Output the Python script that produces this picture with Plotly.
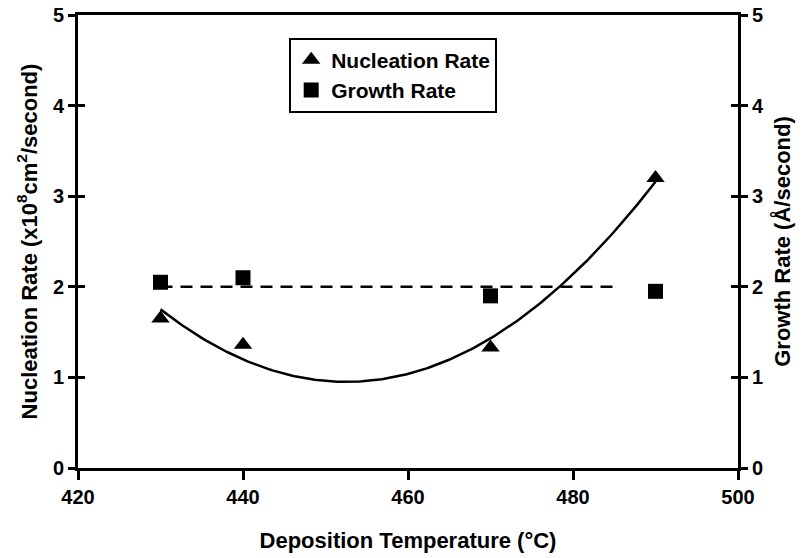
import numpy as np
import plotly.graph_objects as go

# ---- data ----
temps = [430, 440, 470, 490]
nucleation = [1.65, 1.36, 1.33, 3.20]
growth = [2.05, 2.10, 1.90, 1.95]
growth_line_x = [430, 485.5]
growth_line_y = [2.0, 2.0]
x_ticks = [420, 440, 460, 480, 500]
y_ticks = [0, 1, 2, 3, 4, 5]

# 2nd-order polynomial trendline of nucleation rate
coef = np.polyfit(temps, nucleation, 2)
xfit = np.linspace(min(temps), max(temps), 200)
yfit = np.polyval(coef, xfit)

FONT = "Liberation Sans, Arial, sans-serif"
tickfont = dict(family=FONT, size=20, color="black", weight="bold")
titlefont = dict(family=FONT, size=22, color="black", weight="bold")

fig = go.Figure()
fig.add_trace(go.Scatter(x=xfit, y=yfit, mode="lines",
                         line=dict(color="black", width=2.5),
                         showlegend=False, hoverinfo="skip"))
fig.add_trace(go.Scatter(x=growth_line_x, y=growth_line_y, mode="lines", yaxis="y2",
                         line=dict(color="black", width=2.5, dash="12px,8px"),
                         showlegend=False, hoverinfo="skip"))
fig.add_trace(go.Scatter(x=temps, y=nucleation, mode="markers", name="Nucleation Rate",
                         marker=dict(symbol="triangle-up", size=16, color="black")))
fig.add_trace(go.Scatter(x=temps, y=growth, mode="markers", name="Growth Rate", yaxis="y2",
                         marker=dict(symbol="square", size=15, color="black")))

common_y = dict(range=[0, 5], tickvals=y_ticks, showgrid=False, zeroline=False,
                fixedrange=True, automargin=False)

fig.update_layout(
    width=804, height=558,
    margin=dict(l=78, r=66, t=15, b=90, autoexpand=False),
    paper_bgcolor="white", plot_bgcolor="white",
    font=dict(family=FONT, color="black"),
    xaxis=dict(range=[420, 500], tickvals=x_ticks, showgrid=False, zeroline=False,
               automargin=False,
               showline=True, linecolor="black", linewidth=3, mirror=True,
               ticks="outside", ticklen=9, tickwidth=2.5, tickcolor="black",
               tickfont=tickfont,
               title=dict(text="Deposition Temperature (°C)", font=titlefont, standoff=26)),
    yaxis=dict(**common_y, showline=True, linecolor="black", linewidth=3,
               ticks="outside", ticklen=7, tickwidth=2.5, tickcolor="black",
               tickfont=tickfont,
               title=dict(text="Nucleation Rate (x10<sup>8</sup>cm<sup>2</sup>/second)",
                          font=titlefont, standoff=10)),
    yaxis2=dict(**common_y, overlaying="y", side="right", anchor="x",
                showline=True, linecolor="black", linewidth=3,
                ticks="outside", ticklen=7, tickwidth=2.5, tickcolor="black",
                tickfont=tickfont,
                title=dict(text="Growth Rate (Å/second)", font=titlefont, standoff=12)),
    yaxis3=dict(**common_y, overlaying="y", side="left", anchor="x",
                showline=False, showticklabels=False,
                ticks="inside", ticklen=7, tickwidth=2.5, tickcolor="black"),
    yaxis4=dict(**common_y, overlaying="y", side="right", anchor="x",
                showline=False, showticklabels=False,
                ticks="inside", ticklen=7, tickwidth=2.5, tickcolor="black"),
    legend=dict(x=0.32, y=0.95, xanchor="left", yanchor="top",
                bgcolor="white", bordercolor="black", borderwidth=2,
                font=dict(family=FONT, size=21, color="black", weight="bold"),
                itemwidth=30, tracegroupgap=0),
    showlegend=True,
)

# dummy traces so the tick-only overlay axes are drawn
fig.add_trace(go.Scatter(x=[None], y=[None], yaxis="y3", showlegend=False, hoverinfo="skip"))
fig.add_trace(go.Scatter(x=[None], y=[None], yaxis="y4", showlegend=False, hoverinfo="skip"))

fig.write_html("out.html")
